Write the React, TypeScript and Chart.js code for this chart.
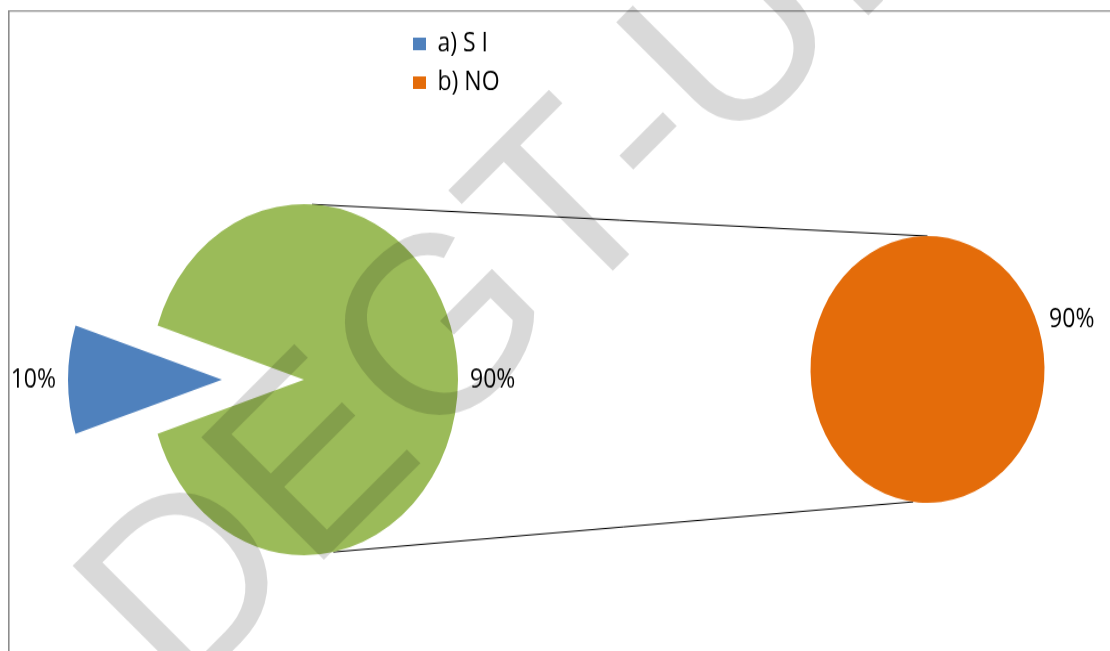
import React, { useEffect, useRef } from 'react';
import { Chart, registerables } from 'chart.js';

Chart.register(...registerables);

// ---- data ----
const CATEGORIES = ['a) S I', 'b) NO'];
const MAIN_VALUES = [10, 90];
const SECONDARY_VALUES = [0, 90];
const MAIN_COLORS = ['#4f81bd', '#9bbb59'];
const SECONDARY_COLORS = ['#4f81bd', '#e46c0a'];
const LEGEND_COLORS = ['#4f81bd', '#e46c0a'];
const WATERMARK = 'DEGT-UNAM';

// ---- layout (canvas drawn at intrinsic height H, shown stretched to H_DISPLAY) ----
const W = 1110;
const H_DISPLAY = 651;
const H = 571;
const SY = H_DISPLAY / H;
const MAIN_GEOM = { cx: 304, cy: 333, r: 154 };
const SECOND_GEOM = { cx: 927.5, cy: 324, r: 117 };
const EXPLODE = [82, 0];
const CONNECT = { mainTop: -87, mainBottom: 79, secTop: -90, secBottom: 97 };
const LABEL_GAP = 12;
const LABEL_FONT = '23px "Open Sans"';
const LEGEND_FONT = { family: 'Open Sans', size: 23 };

const rad = (d: number) => (d * Math.PI) / 180;

const geometryPlugin = {
  id: 'pieOfPieGeometry',
  afterDatasetsUpdate(chart: any) {
    const geoms = [MAIN_GEOM, SECOND_GEOM];
    chart.data.datasets.forEach((_: any, d: number) => {
      const meta = chart.getDatasetMeta(d);
      const g = geoms[d];
      meta.data.forEach((el: any, i: number) => {
        const mid = (el.startAngle + el.endAngle) / 2;
        const off = d === 0 ? EXPLODE[i] : 0;
        el.x = g.cx + Math.cos(mid) * off;
        el.y = g.cy + Math.sin(mid) * off;
        el.innerRadius = 0;
        el.outerRadius = g.r;
      });
    });
  },
};

const framePlugin = {
  id: 'frame',
  beforeDraw(chart: any) {
    const ctx = chart.ctx;
    ctx.save();
    ctx.scale(1, 1 / SY);
    ctx.strokeStyle = '#8c8c8c';
    ctx.lineWidth = 1.6;
    ctx.beginPath();
    ctx.moveTo(8.8, H_DISPLAY);
    ctx.lineTo(8.8, 11);
    ctx.lineTo(W, 11);
    ctx.stroke();
    ctx.restore();
  },
};

const connectorPlugin = {
  id: 'connectors',
  beforeDatasetsDraw(chart: any) {
    const main = chart.getDatasetMeta(0).data[1];
    const sec = chart.getDatasetMeta(1).data[1];
    if (!main || !sec) return;
    const pt = (el: any, a: number) => [el.x + Math.cos(rad(a)) * el.outerRadius, el.y + Math.sin(rad(a)) * el.outerRadius];
    const ctx = chart.ctx;
    ctx.save();
    ctx.strokeStyle = '#000';
    ctx.lineWidth = 1;
    const pairs = [
      [pt(main, CONNECT.mainTop), pt(sec, CONNECT.secTop)],
      [pt(main, CONNECT.mainBottom), pt(sec, CONNECT.secBottom)],
    ];
    pairs.forEach(([a, b]) => {
      ctx.beginPath();
      ctx.moveTo(a[0], a[1]);
      ctx.lineTo(b[0], b[1]);
      ctx.stroke();
    });
    ctx.restore();
  },
};

const labelPlugin = {
  id: 'sliceLabels',
  afterDatasetsDraw(chart: any) {
    const ctx = chart.ctx;
    ctx.save();
    ctx.font = LABEL_FONT;
    ctx.fillStyle = '#000';
    ctx.textAlign = 'center';
    ctx.textBaseline = 'middle';
    chart.data.datasets.forEach((ds: any, d: number) => {
      const meta = chart.getDatasetMeta(d);
      meta.data.forEach((el: any, i: number) => {
        const v = ds.data[i];
        if (!v) return;
        const text = `${v}%`;
        const mid = (el.startAngle + el.endAngle) / 2;
        const R = el.outerRadius + LABEL_GAP;
        const ax = el.x + Math.cos(mid) * R;
        const ay = el.y + Math.sin(mid) * R;
        const w = ctx.measureText(text).width;
        const h = 23;
        ctx.fillText(text, ax + (Math.cos(mid) * w) / 2, ay + (Math.sin(mid) * h) / 2);
      });
    });
    ctx.restore();
  },
};

const watermarkPlugin = {
  id: 'watermark',
  afterDraw(chart: any) {
    const ctx = chart.ctx;
    ctx.save();
    ctx.scale(1, 1 / SY);
    ctx.translate(180.5, 703);
    ctx.rotate(-Math.PI / 4);
    ctx.font = '252px "Liberation Sans"';
    ctx.fillStyle = 'rgba(0,0,0,0.15)';
    ctx.textAlign = 'left';
    ctx.textBaseline = 'alphabetic';
    ctx.fillText(WATERMARK, 0, 0);
    ctx.restore();
  },
};

export default function App() {
  const ref = useRef<HTMLCanvasElement>(null);
  useEffect(() => {
    if (!ref.current) return;
    const chart = new Chart(ref.current, {
      type: 'pie',
      data: {
        labels: CATEGORIES,
        datasets: [
          { label: 'main', data: MAIN_VALUES, backgroundColor: MAIN_COLORS, borderWidth: 0, rotation: 252 } as any,
          { label: 'secondary', data: SECONDARY_VALUES, backgroundColor: SECONDARY_COLORS, borderWidth: 0, rotation: 252 } as any,
        ],
      },
      options: {
        responsive: false,
        animation: false,
        devicePixelRatio: 1,
        events: [],
        layout: { padding: { left: 402, top: 16 } },
        plugins: {
          tooltip: { enabled: false },
          legend: {
            position: 'left',
            align: 'start',
            labels: {
              boxWidth: 13,
              boxHeight: 11,
              padding: 11,
              color: '#000',
              font: LEGEND_FONT,
              generateLabels: () =>
                CATEGORIES.map((text, i) => ({
                  text,
                  fillStyle: LEGEND_COLORS[i],
                  strokeStyle: LEGEND_COLORS[i],
                  lineWidth: 0,
                  hidden: false,
                  index: i,
                  fontColor: '#000',
                })),
            },
          },
        },
      } as any,
      plugins: [framePlugin, geometryPlugin, connectorPlugin, labelPlugin, watermarkPlugin],
    });
    return () => chart.destroy();
  }, []);
  return (
    <div style={{ position: 'absolute', left: 0, top: 0, width: W, height: H_DISPLAY, overflow: 'hidden', background: '#fff' }}>
      <canvas ref={ref} width={W} height={H} style={{ display: 'block', width: `${W}px`, height: `${H_DISPLAY}px` }} />
    </div>
  );
}
